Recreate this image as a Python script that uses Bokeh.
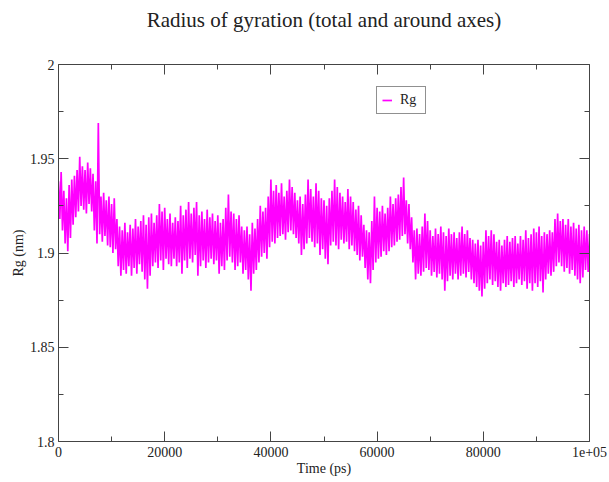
from bokeh.plotting import figure
from bokeh.models import LinearAxis, FixedTicker, Legend, LegendItem, Range1d
from bokeh.embed import file_html
from bokeh.resources import INLINE

# ---------------- data ----------------
time_step_ps = 500          # upper samples every 500 ps, lower samples offset by 250 ps
rg_upper = [
    1.938, 1.943, 1.933, 1.929, 1.936, 1.939, 1.941, 1.944, 1.951, 1.946,
    1.944, 1.948, 1.945, 1.942, 1.938, 1.969, 1.930, 1.932, 1.928, 1.930,
    1.926, 1.929, 1.918, 1.914, 1.912, 1.916, 1.911, 1.915, 1.913, 1.918,
    1.914, 1.917, 1.920, 1.915, 1.919, 1.921, 1.916, 1.920, 1.926, 1.922,
    1.924, 1.918, 1.921, 1.916, 1.919, 1.917, 1.925, 1.920, 1.923, 1.927,
    1.921, 1.924, 1.927, 1.920, 1.922, 1.918, 1.923, 1.919, 1.921, 1.917,
    1.920, 1.916, 1.918, 1.924, 1.931, 1.922, 1.921, 1.918, 1.920, 1.914,
    1.912, 1.914, 1.910, 1.916, 1.913, 1.918, 1.925, 1.922, 1.924, 1.930,
    1.939, 1.933, 1.936, 1.932, 1.937, 1.930, 1.933, 1.939, 1.935, 1.932,
    1.928, 1.930, 1.926, 1.931, 1.939, 1.934, 1.930, 1.937, 1.933, 1.929,
    1.928, 1.925, 1.929, 1.933, 1.939, 1.935, 1.932, 1.930, 1.927, 1.934,
    1.930, 1.927, 1.923, 1.925, 1.920, 1.915, 1.912, 1.911, 1.917, 1.930,
    1.924, 1.922, 1.925, 1.921, 1.924, 1.930, 1.926, 1.929, 1.931, 1.935,
    1.940, 1.928, 1.926, 1.919, 1.912, 1.913, 1.910, 1.914, 1.921, 1.917,
    1.912, 1.909, 1.913, 1.910, 1.914, 1.911, 1.909, 1.913, 1.910, 1.911,
    1.908, 1.911, 1.914, 1.910, 1.912, 1.908, 1.907, 1.905, 1.907, 1.904,
    1.906, 1.912, 1.909, 1.912, 1.910, 1.906, 1.907, 1.904, 1.907, 1.909,
    1.906, 1.908, 1.909, 1.905, 1.909, 1.907, 1.912, 1.908, 1.910, 1.913,
    1.911, 1.914, 1.909, 1.911, 1.910, 1.912, 1.911, 1.918, 1.921, 1.917,
    1.918, 1.915, 1.918, 1.914, 1.916, 1.913, 1.915, 1.912, 1.914, 1.912,
    1.910,
]
rg_lower = [
    1.918, 1.912, 1.905, 1.901, 1.908, 1.915, 1.919, 1.922, 1.925, 1.923,
    1.921, 1.926, 1.922, 1.912, 1.905, 1.910, 1.906, 1.909, 1.904, 1.903,
    1.900, 1.902, 1.893, 1.888, 1.891, 1.889, 1.893, 1.888, 1.892, 1.889,
    1.894, 1.890, 1.886, 1.881, 1.888, 1.893, 1.895, 1.892, 1.896, 1.891,
    1.897, 1.894, 1.893, 1.897, 1.893, 1.895, 1.889, 1.896, 1.892, 1.897,
    1.895, 1.899, 1.888, 1.893, 1.896, 1.892, 1.895, 1.897, 1.894, 1.896,
    1.889, 1.893, 1.891, 1.896, 1.898, 1.895, 1.891, 1.893, 1.895, 1.889,
    1.891, 1.886, 1.880, 1.889, 1.891, 1.895, 1.898, 1.900, 1.897, 1.903,
    1.906, 1.905, 1.908, 1.909, 1.910, 1.907, 1.911, 1.912, 1.910, 1.908,
    1.905, 1.899, 1.902, 1.905, 1.908, 1.906, 1.903, 1.905, 1.899, 1.902,
    1.897, 1.894, 1.904, 1.906, 1.904, 1.902, 1.907, 1.905, 1.906, 1.902,
    1.904, 1.901, 1.899, 1.896, 1.898, 1.892, 1.886, 1.884, 1.891, 1.895,
    1.897, 1.898, 1.901, 1.899, 1.901, 1.903, 1.904, 1.906, 1.907, 1.909,
    1.910, 1.905, 1.902, 1.895, 1.886, 1.889, 1.888, 1.890, 1.892, 1.891,
    1.888, 1.890, 1.887, 1.889, 1.886, 1.880, 1.885, 1.888, 1.886, 1.889,
    1.886, 1.888, 1.889, 1.887, 1.890, 1.886, 1.884, 1.882, 1.880, 1.877,
    1.881, 1.884, 1.886, 1.883, 1.885, 1.882, 1.880, 1.884, 1.882, 1.883,
    1.885, 1.882, 1.884, 1.886, 1.883, 1.885, 1.881, 1.884, 1.880, 1.884,
    1.882, 1.885, 1.879, 1.886, 1.889, 1.888, 1.890, 1.893, 1.895, 1.893,
    1.890, 1.892, 1.889, 1.891, 1.888, 1.886, 1.884, 1.887, 1.891, 1.890,
]
x_ticks = [0, 20000, 40000, 60000, 80000, 100000]
x_tick_labels = ["0", "20000", "40000", "60000", "80000", "1e+05"]
x_minor_ticks = [10000, 30000, 50000, 70000, 90000]
y_ticks = [1.8, 1.85, 1.9, 1.95, 2.0]
y_tick_labels = ["1.8", "1.85", "1.9", "1.95", "2"]
y_minor_ticks = [1.825, 1.875, 1.925, 1.975]
title_text = "Radius of gyration (total and around axes)"

# interleave upper / lower samples into one trace
t, rg = [], []
for i, v in enumerate(rg_upper):
    t.append(i * time_step_ps)
    rg.append(v)
    if i < len(rg_lower):
        t.append(i * time_step_ps + time_step_ps // 2)
        rg.append(rg_lower[i])

FONT = "Liberation Serif"
AX = "#444444"
TXT = "#222222"

p = figure(width=609, height=482,
           x_range=Range1d(0, 100000), y_range=Range1d(1.8, 2.0),
           output_backend="svg", toolbar_location=None,
           min_border_left=58, min_border_right=20,
           min_border_top=64, min_border_bottom=41)
p.outline_line_color = None
p.grid.visible = False
p.background_fill_color = "white"
p.border_fill_color = "white"

r = p.line(t, rg, line_color="#ff00ff", line_width=1.7)

xt = FixedTicker(ticks=x_ticks, minor_ticks=x_minor_ticks)
yt = FixedTicker(ticks=y_ticks, minor_ticks=y_minor_ticks)

def style(ax, ticker, labels=None):
    ax.ticker = ticker
    ax.axis_line_color = AX
    ax.major_tick_line_color = AX
    ax.minor_tick_line_color = AX
    ax.major_tick_in = 10
    ax.major_tick_out = 0
    ax.minor_tick_in = 5
    ax.minor_tick_out = 0
    ax.major_label_text_font = FONT
    ax.major_label_text_color = TXT
    ax.axis_label_text_font = FONT
    ax.axis_label_text_font_style = "normal"
    ax.axis_label_text_color = TXT
    if labels is None:
        ax.major_label_text_font_size = "0px"
        ax.major_label_standoff = 0
    else:
        ax.major_label_text_font_size = "14px"
        ax.major_label_overrides = labels

xax = p.xaxis[0]
style(xax, xt, {k: s for k, s in zip(x_ticks, x_tick_labels)})
xax.axis_label = "Time (ps)"
xax.axis_label_text_font_size = "14px"
xax.major_label_standoff = 5
xax.axis_label_standoff = 1

yax = p.yaxis[0]
style(yax, yt, {k: s for k, s in zip(y_ticks, y_tick_labels)})
yax.axis_label = "Rg (nm)"
yax.axis_label_text_font_size = "14px"
yax.major_label_standoff = 4
yax.axis_label_standoff = 1

# top axis: ticks only, carries the chart title as its label (centred on frame)
top = LinearAxis()
style(top, xt)
top.axis_label = title_text
top.axis_label_text_font_size = "21px"
top.axis_label_standoff = 33
p.add_layout(top, "above")

right = LinearAxis()
style(right, yt)
p.add_layout(right, "right")

legend = Legend(items=[LegendItem(label="Rg", renderers=[r])],
                location=(318, 327))
legend.border_line_color = TXT
legend.border_line_width = 1
legend.background_fill_color = "white"
legend.background_fill_alpha = 1
legend.label_text_font = FONT
legend.label_text_font_size = "14px"
legend.label_text_color = TXT
legend.glyph_width = 10
legend.glyph_height = 14
legend.label_standoff = 8
legend.padding = 5
legend.margin = 0
legend.spacing = 0
p.add_layout(legend, "center")

open("out.html", "w").write(file_html(p, INLINE))
